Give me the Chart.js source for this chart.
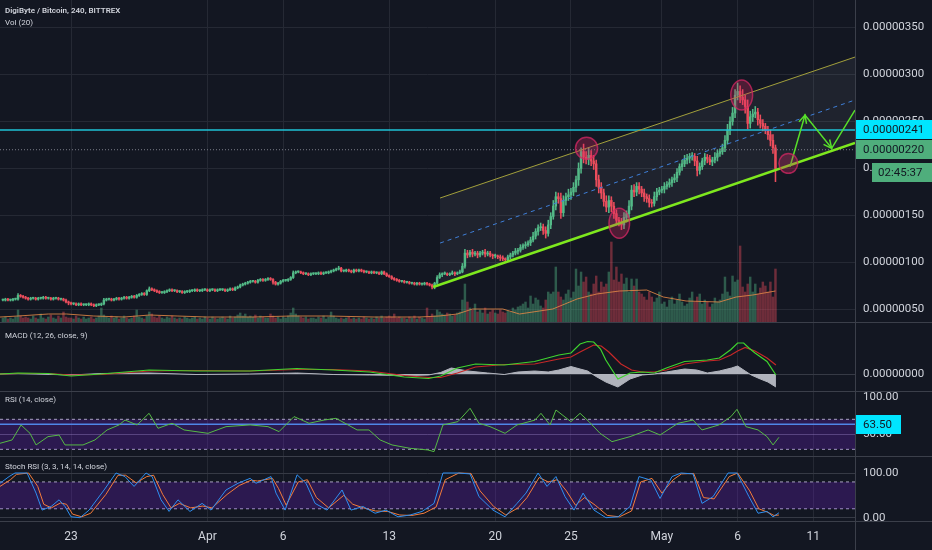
<!DOCTYPE html>
<html><head><meta charset="utf-8">
<script src="https://cdn.jsdelivr.net/npm/chart.js@4.4.1/dist/chart.umd.min.js"></script>
<style>
html,body{margin:0;padding:0;background:#131722;}
#root{position:relative;width:932px;height:550px;overflow:hidden;background:#131722;}
.pane{position:absolute;left:0;width:932px;}
.sep{position:absolute;background:#3b3f4a;z-index:4;}
.lbl{position:absolute;left:5px;color:#d1d4dc;font-family:Roboto,"Noto Sans",sans-serif;font-size:8px;white-space:nowrap;z-index:5;line-height:1;}
</style></head><body>
<div id="root">
 <div class="pane" style="top:0;height:322px"><canvas id="cMain"></canvas></div>
 <div class="pane" style="top:323px;height:68px"><canvas id="cMacd"></canvas></div>
 <div class="pane" style="top:392px;height:64px"><canvas id="cRsi"></canvas></div>
 <div class="pane" style="top:457px;height:93px"><canvas id="cStoch"></canvas></div>
 <div class="sep" style="left:0;top:322px;width:932px;height:1px"></div>
 <div class="sep" style="left:0;top:391px;width:932px;height:1px"></div>
 <div class="sep" style="left:0;top:456px;width:932px;height:1px"></div>
 <div class="sep" style="left:0;top:521px;width:932px;height:1px"></div>
 <div class="sep" style="left:855px;top:0;width:1px;height:550px"></div>
 <div class="lbl" style="top:7px;font-weight:600">DigiByte / Bitcoin, 240, BITTREX</div>
 <div class="lbl" style="top:19px">Vol (20)</div>
 <div class="lbl" style="top:332px">MACD (12, 26, close, 9)</div>
 <div class="lbl" style="top:396px">RSI (14, close)</div>
 <div class="lbl" style="top:463px">Stoch RSI (3, 3, 14, 14, close)</div>
</div>
<script>
// ---------- DATA (days relative to Mar 23, prices in satoshi = 1e-8 BTC) ----------
const xTickDays   = [0, 9, 14, 21, 28, 33, 39, 44, 49];
const xTickLabels = ['23', 'Apr', '6', '13', '20', '25', 'May', '6', '11'];
const priceTicks  = [50, 100, 150, 200, 250, 300, 350];
const rsiTicks    = [50, 100];
const stochTicks  = [0, 100];
const macdTicks   = [0];

const FIRST_BAR_DAY = -4.5;   // Mar 18 12:00
const BARS_PER_DAY = 6;       // 240-minute candles
const FIRST_OPEN = 60;

const closes = [
 60,61,60,
 60,61,61,65,64,63, 62,61,62,62,61,62, 62,63,62,62,61,62, 62,61,61,60,58,57,
 56,56,55,56,55,55, 55,56,55,54,55,55, 56,60,61,61,60,61, 62,61,62,63,62,63,
 64,63,65,66,67,66, 70,72,71,70,69,68, 68,69,70,71,70,70, 69,69,68,69,69,70,
 70,71,70,70,71,71, 70,71,71,70,71,71, 71,70,71,72,71,73, 74,76,77,78,79,80,
 80,79,81,82,81,82, 83,82,79,77,78,80, 81,81,82,84,89,90, 90,89,88,88,87,88,
 88,88,89,88,89,89, 90,91,92,93,94,91, 91,92,91,90,92,91, 92,91,90,90,89,90,
 89,89,88,90,88,86, 85,83,82,81,80,80, 79,79,78,78,77,78, 77,77,78,77,76,74,
 78,84,87,88,88,87, 88,89,88,89,90,96, 110,108,111,109,110,108, 110,111,109,110,108,107,
 107,106,105,104,103,106, 108,110,112,113,116,118, 119,121,124,128,133,137, 138,134,131,140,149,160,
 170,168,153,166,170,172, 175,180,188,200,218,212, 210,214,208,205,188,180, 174,165,159,166,160,152,
 145,143,140,148,152,160, 177,175,181,178,174,170, 168,164,163,170,175,177, 178,181,183,185,188,190,
 196,202,205,209,211,213, 213,208,198,202,208,212, 210,207,209,212,216,218, 222,230,241,250,259,278,
 282,276,273,266,248,255, 258,260,252,248,245,241, 236,230,222,200
];
const wickUp = [
 1,1,1,
 1,1,1,2,1,1, 1,1,1,1,1,1, 1,1,1,1,1,1, 1,1,1,1,1,1,
 1,1,1,1,1,1, 1,1,1,1,1,1, 1,2,1,1,1,1, 1,1,1,1,1,1,
 1,1,1,1,1,1, 1,2,1,1,1,1, 1,1,1,1,1,1, 1,1,1,1,1,1,
 1,1,1,1,1,1, 1,1,1,1,1,1, 1,1,1,1,1,1, 1,1,1,1,1,1,
 1,1,1,1,1,1, 1,1,1,1,1,1, 1,1,1,1,2,1, 1,1,1,1,1,1,
 1,1,1,1,1,1, 1,1,1,1,2,1, 1,1,1,1,1,1, 1,1,1,1,1,1,
 1,1,1,1,1,1, 1,1,1,1,1,1, 1,1,1,1,1,1, 1,1,1,1,1,1,
 1,2,2,1,2,1, 1,2,1,1,2,3, 4,3,2,3,2,2, 2,2,3,2,2,1,
 2,1,2,2,1,2, 2,2,3,2,3,2, 3,2,3,4,3,3, 4,3,4,5,4,6,
 5,4,6,5,4,6, 4,5,4,6,4,8, 6,8,5,6,4,5, 5,4,6,5,4,4,
 4,3,4,5,3,6, 5,6,4,4,3,4, 3,4,3,5,4,3, 3,4,3,4,3,4,
 4,3,4,5,4,3, 4,3,5,4,3,4, 3,4,3,5,4,3, 4,5,6,5,6,6,
 9,6,8,5,7,6, 5,6,4,5,4,3, 4,5,6,3
];
const wickDn = [
 1,1,1,
 1,1,1,1,1,1, 1,1,1,1,1,1, 1,1,1,1,1,1, 1,1,1,1,1,2,
 1,1,1,1,1,1, 1,1,1,1,1,1, 1,1,1,1,1,1, 1,1,1,1,1,1,
 1,1,1,1,1,1, 1,1,1,1,1,1, 1,1,1,1,1,1, 1,1,1,1,1,1,
 1,1,1,1,1,1, 1,1,1,1,1,1, 1,1,1,1,1,1, 1,1,1,1,1,1,
 1,1,1,1,1,1, 1,1,2,1,1,1, 1,1,1,1,1,1, 1,1,1,1,1,1,
 1,1,1,1,1,1, 1,1,1,1,1,1, 1,1,1,1,1,1, 1,1,1,1,1,1,
 1,1,1,1,1,1, 1,1,1,1,1,1, 1,1,1,1,1,1, 1,1,1,1,1,2,
 2,1,1,2,1,1, 1,1,2,1,1,1, 2,3,2,3,2,3, 2,2,3,2,2,3,
 2,2,3,2,3,2, 2,2,2,3,2,2, 3,2,3,2,3,4, 3,4,5,3,4,3,
 4,5,6,4,5,4, 5,4,5,6,5,6, 5,6,5,6,7,6, 6,5,5,6,6,5,
 5,4,5,4,5,4, 4,5,4,5,4,5, 4,5,4,3,4,3, 3,4,3,3,4,3,
 4,3,4,3,4,5, 4,5,6,4,3,4, 4,3,4,3,4,3, 3,4,4,5,4,5,
 5,6,5,7,6,5, 5,4,6,5,5,4, 5,6,6,14
];
const volumes = [
 4,5,3,
 4,3,5,12,6,4, 5,4,3,6,4,3, 8,4,3,5,7,4, 3,6,4,10,5,4,
 4,3,6,4,3,5, 3,4,5,3,4,6, 14,7,5,4,6,4, 5,3,4,6,4,3,
 4,6,12,5,4,3, 6,10,8,5,4,6, 4,3,5,4,6,4, 3,4,3,5,4,3,
 4,5,3,4,3,5, 4,3,5,4,3,4, 5,4,3,6,4,5, 7,9,6,8,5,6,
 5,7,4,6,5,4, 4,8,6,4,5,3, 5,4,6,9,14,8, 6,5,4,5,3,4,
 4,3,5,4,6,3, 5,10,6,4,3,4, 3,4,5,3,4,3, 4,3,5,4,3,4,
 3,5,4,6,4,5, 6,5,8,4,5,4, 4,3,5,4,6,3, 5,4,3,14,5,8,
 6,12,10,8,7,9, 8,6,7,9,10,22, 38,20,14,12,18,10, 12,9,14,8,10,12,
 9,8,12,10,9,11, 10,14,12,15,16,18, 20,14,26,18,24,22, 16,14,22,30,28,30,
 55,30,25,22,28,32, 24,30,53,36,50,40, 45,30,28,38,46,30, 40,35,38,50,80,42,
 55,40,48,38,44,30, 43,36,43,30,28,25, 22,30,25,20,24,30, 18,20,15,22,25,18,
 22,28,20,16,18,24, 30,20,25,28,18,22, 20,15,18,24,20,22, 28,45,30,26,46,40,
 42,76,35,30,38,45, 30,38,28,34,40,36, 30,40,25,53
];
const volMA = [[-4.69,5],[-3.5,6],[-1.5,8],[-0.3,8],[1.5,6],[3.5,5],[5.2,7],[7,6],[9,5],[12,5],[14.5,6],[17,6],[20,5],[23,5],[24.3,6],[25.5,8],[26.5,13],[28.5,13],[29.6,8],[31.8,13],[33.4,23],[34.7,28],[36.2,31],[38,32],[39.1,25],[40.6,21],[42.8,20],[43.9,25],[45,27],[46.5,31]];

// drawings on the price pane
const channelUpper  = [[24.36,168.6],[51.75,318.6]];
const channelMiddle = [[24.36,120.7],[51.75,272.9]];
const channelLower  = [[23.9,74.0],[51.75,227.1]];
const channelFillBottom = [[24.36,76.5],[51.75,227.1]];
const level241 = [[-4.69,241],[51.75,241]];
const level220 = [[-4.69,220],[51.75,220]];
const arrowPath = [[47.46,201.9],[48.45,256.9],[50.21,221.5],[51.75,262.2]];
const circles = [[34.03,221.5,0.73,11.7],[36.19,141.7,0.68,16],[44.27,278.2,0.72,16],[47.35,205.5,0.62,10.6]]; // [day, price, radius in days, radius in price]
const priceTags = [[241,'0.00000241','#00e5ff'],[220,'0.00000220','#4fae7c']];
const countdown = '02:45:37';

// MACD (values in 1e-10 BTC)
const macdLine = [[-4.69,0],[-3.5,1],[-1.5,0.5],[0,-2],[2,0],[5.15,4],[8.25,3],[11.8,3],[14.9,5.5],[17.3,4],[19.7,2],[22,-3],[23.6,-4.5],[24.4,-2],[25.5,6],[26.7,10],[28.6,9],[30.6,12.5],[32.2,19],[33,21],[33.6,30],[34.1,32.5],[34.5,32],[34.95,25],[35.3,14],[36.1,-5],[36.9,1],[37.7,2],[38.5,1],[39.3,6],[40.5,12.5],[42,14],[42.8,16],[43.56,24.5],[44.0,31],[44.4,31],[44.75,26],[45.15,21],[45.94,12.5],[46.53,-1]];
const signalLine = [[-4.69,0],[-3.5,0.5],[-1.5,0.5],[0,-1],[2,-0.5],[5.15,3],[8.25,3.5],[11.8,3],[14.9,4.5],[17.3,4.5],[19.7,3],[22,-1.5],[23.6,-3.5],[24.4,-3.5],[25.5,1],[26.7,7],[28.6,9.5],[30.6,10],[32.2,15],[33,17],[33.6,22],[34.5,29],[35.0,28],[35.5,22],[36.3,10],[37.0,4],[37.7,2],[38.5,2],[39.3,4],[40.5,10],[42,13],[42.8,14],[43.56,19],[44.0,23],[44.5,26.5],[45.15,23],[45.94,16],[46.53,9]];
const macdHist = [[-4.69,0],[-3.5,0.5],[0,-1],[2,0.5],[5.15,1],[8.25,-0.5],[11.8,0],[14.9,1],[17.3,-0.5],[19.7,-1],[22,-1.5],[23.6,-1],[24.4,1.5],[25.1,6],[26.2,3],[27.5,1],[28.6,-0.5],[29.5,2],[30.6,3],[31.5,2],[32.2,4],[33,7.5],[33.6,5],[34.1,3],[34.6,-2],[35.3,-8],[36.1,-13],[36.9,-5],[37.7,-1],[38.5,0],[39.3,2],[40.5,5],[41.3,4],[42,1],[42.8,3],[43.6,6],[44.0,8],[44.5,3],[44.9,-1],[45.5,-5],[46.0,-8],[46.53,-13]];

// RSI (14)
const rsi = [[-4.69,38],[-3.89,42.5],[-3.3,62.4],[-2.71,51.3],[-2.31,35.8],[-1.52,46.9],[-0.79,49],[-0.4,35.8],[0.79,35.8],[1.58,42.5],[2.38,55.8],[3.17,62.5],[3.56,69],[4.36,62.5],[5.15,78],[5.74,58],[6.67,64.7],[7.46,55.8],[9.04,51.3],[10.23,60.2],[11.82,62.5],[13.0,60.2],[13.73,53.6],[14.72,73.6],[15.71,64.7],[16.7,69],[17.49,71.3],[18.09,64.7],[18.88,55.8],[19.67,55.8],[20.4,42.5],[21.19,35.8],[22.38,31.3],[23.56,29.1],[23.96,26.9],[24.55,62.5],[25.54,66.9],[26.34,84.7],[26.93,64.7],[27.66,60.2],[28.65,51.3],[29.44,62.5],[30.63,69],[31.02,78],[31.62,62.5],[32.01,82.4],[33.0,66.9],[33.6,78],[34.19,66.9],[34.92,51.3],[35.71,40.2],[36.9,46.9],[38.09,55.8],[38.88,49.1],[40.07,64.7],[41.06,69],[41.65,55.8],[42.77,62.5],[43.56,73.6],[43.96,83.3],[44.55,60.2],[45.35,55.8],[45.94,46.9],[46.34,35.8],[46.73,46]];
const rsiUpper = [[-4.69,70],[51.75,70]];
const rsiLower = [[-4.69,30],[51.75,30]];
const rsiLevel = [[-4.69,63.5],[51.75,63.5]];

// Stoch RSI
const stochK = [[-4.69,77],[-4.09,92],[-3.7,100],[-2.9,100],[-2.31,55],[-1.91,17],[-1.32,25],[-0.79,40],[-0.4,25],[0,2],[0.59,0],[1.19,17],[2.18,62],[2.97,100],[3.56,92],[4.16,70],[4.95,100],[5.35,92],[5.94,40],[6.47,14],[7.06,40],[7.85,14],[8.65,32],[9.24,17],[10.23,62],[11.02,77],[11.82,88],[12.21,77],[13.2,92],[13.53,55],[14.13,17],[14.92,96],[15.51,77],[16.11,32],[16.9,17],[17.89,62],[18.48,17],[19.27,25],[20.07,10],[20.79,17],[21.58,2],[22.38,6],[23.17,14],[23.96,32],[24.55,100],[25.54,100],[26.34,98],[26.93,47],[27.85,17],[28.65,2],[29.44,32],[30.03,55],[30.83,100],[31.42,70],[32.01,92],[32.61,47],[33.2,17],[33.8,55],[34.52,17],[35.31,0],[36.11,2],[36.9,25],[37.49,92],[38.28,84],[38.88,43],[39.67,92],[40.26,100],[41.06,98],[41.65,32],[42.38,47],[43.37,100],[43.96,100],[44.75,47],[45.35,10],[45.94,14],[46.34,2],[46.73,11]];
const stochD = [[-4.69,70],[-4.0,85],[-3.6,97],[-2.8,100],[-2.2,70],[-1.8,30],[-1.3,22],[-0.7,33],[-0.3,30],[0.1,8],[0.7,2],[1.3,10],[2.3,52],[3.1,95],[3.6,95],[4.3,78],[5.0,92],[5.45,95],[6.05,52],[6.6,22],[7.15,32],[7.9,22],[8.7,26],[9.3,22],[10.3,52],[11.1,72],[11.9,84],[12.3,82],[13.3,88],[13.7,65],[14.2,28],[15.0,80],[15.6,85],[16.2,45],[17.0,22],[18.0,50],[18.6,30],[19.3,22],[20.1,15],[20.9,14],[21.7,6],[22.5,5],[23.3,10],[24.1,24],[24.7,85],[25.6,100],[26.4,99],[27.0,60],[27.9,25],[28.7,6],[29.5,22],[30.1,45],[30.9,90],[31.5,80],[32.1,85],[32.7,60],[33.3,28],[33.9,45],[34.6,28],[35.4,5],[36.2,2],[37.0,15],[37.6,80],[38.35,88],[39.0,55],[39.75,85],[40.3,98],[41.1,99],[41.75,45],[42.45,42],[43.45,92],[44.0,100],[44.8,60],[45.4,20],[46.0,12],[46.4,5],[46.73,6]];
const stochUpper = [[-4.69,80],[51.75,80]];
const stochLower = [[-4.69,20],[51.75,20]];

// ---------- STYLE / LAYOUT ----------
const FONT = 'Roboto, "Noto Sans", sans-serif';
const GRID = '#252934';
const TXT = '#d1d4dc';
const X_MIN = -4.69, X_MAX = 51.75;
const UP = '#53b987', DOWN = '#eb4d5c';
const ARROW = '#58e02a';

const pts = a => a.map(p => ({x: p[0], y: p[1]}));

function xScale(show) {
  return {
    type: 'linear', min: X_MIN, max: X_MAX, offset: false,
    afterBuildTicks: s => { s.ticks = xTickDays.map(v => ({value: v})); },
    ticks: {display: show, autoSkip: false, maxRotation: 0, color: TXT, padding: 9,
      font: {size: 12, family: FONT}, callback: (v, i) => xTickLabels[i]},
    grid: {color: GRID, drawTicks: false, offset: false},
    border: {display: false},
    afterFit: s => { s.height = show ? 29 : 0; s.paddingLeft = 0; s.paddingRight = 0; }
  };
}
function yScale(min, max, ticks, fmt, gridColor) {
  return {
    type: 'linear', position: 'right', min: min, max: max,
    afterBuildTicks: s => { s.ticks = ticks.map(v => ({value: v})); },
    ticks: {color: TXT, padding: 8, font: {size: 11.5, family: FONT}, callback: fmt},
    grid: {color: gridColor, drawTicks: false},
    border: {display: false},
    afterFit: s => { s.width = 77; s.paddingTop = 0; s.paddingBottom = 0; }
  };
}
const baseOpts = {
  responsive: true, maintainAspectRatio: false, animation: false, events: [],
  layout: {padding: 0, autoPadding: false},
  plugins: {legend: {display: false}, tooltip: {enabled: false}}
};
function line(data, color, width, extra) {
  return Object.assign({type: 'line', data: pts(data), borderColor: color, borderWidth: width,
    pointRadius: 0, tension: 0, fill: false}, extra || {});
}
function drawTag(chart, scaleId, value, text, bg, x0, x1, dy, tx) {
  const ctx = chart.ctx;
  const y = chart.scales[scaleId].getPixelForValue(value) + dy;
  ctx.save();
  ctx.fillStyle = bg;
  ctx.fillRect(x0, Math.round(y - 9.5), x1 - x0, 19);
  ctx.fillStyle = '#131722';
  ctx.font = '11.5px ' + FONT;
  ctx.textBaseline = 'middle';
  ctx.fillText(text, tx, y + 0.5);
  ctx.restore();
}

// ---------- MAIN PANE ----------
const barX = closes.map((c, i) => FIRST_BAR_DAY + i / BARS_PER_DAY);
const opens = closes.map((c, i) => i === 0 ? FIRST_OPEN : closes[i - 1]);
const isUp = closes.map((c, i) => c >= opens[i]);
const candleCol = isUp.map(u => u ? UP : DOWN);
const volCol = isUp.map(u => u ? 'rgba(83,185,135,0.42)' : 'rgba(235,77,92,0.42)');
const bodyData = closes.map((c, i) => ({x: barX[i], y: [opens[i], c]}));
const wickData = closes.map((c, i) => ({x: barX[i], y: [Math.min(opens[i], c) - wickDn[i], Math.max(opens[i], c) + wickUp[i]]}));
const volData = volumes.map((v, i) => ({x: barX[i], y: v}));

const mainDraw = {
  id: 'mainDraw',
  afterDatasetsDraw(chart) {
    const {ctx, chartArea: a, scales: {x, y}} = chart;
    ctx.save();
    ctx.beginPath(); ctx.rect(a.left, a.top, a.width, a.height); ctx.clip();
    circles.forEach(e => {
      const cx = x.getPixelForValue(e[0]), cy = y.getPixelForValue(e[1]);
      const rx = Math.abs(x.getPixelForValue(e[0] + e[2]) - cx);
      const ry = Math.abs(y.getPixelForValue(e[1] + e[3]) - cy);
      ctx.beginPath(); ctx.ellipse(cx, cy, rx, ry, 0, 0, Math.PI * 2);
      ctx.fillStyle = 'rgba(214,40,100,0.30)'; ctx.fill();
      ctx.strokeStyle = 'rgba(214,40,100,0.75)'; ctx.lineWidth = 1.5; ctx.stroke();
    });
    [1, 2].forEach(i => {
      const p0 = arrowPath[i - 1], p1 = arrowPath[i];
      const x0 = x.getPixelForValue(p0[0]), y0 = y.getPixelForValue(p0[1]);
      const x1 = x.getPixelForValue(p1[0]), y1 = y.getPixelForValue(p1[1]);
      const ang = Math.atan2(y1 - y0, x1 - x0), L = 9;
      ctx.beginPath();
      ctx.moveTo(x1 - L * Math.cos(ang - 0.45), y1 - L * Math.sin(ang - 0.45));
      ctx.lineTo(x1, y1);
      ctx.lineTo(x1 - L * Math.cos(ang + 0.45), y1 - L * Math.sin(ang + 0.45));
      ctx.strokeStyle = ARROW; ctx.lineWidth = 1.5; ctx.stroke();
    });
    ctx.restore();
  },
  afterDraw(chart) {
    const a = chart.chartArea, W = chart.width;
    priceTags.forEach(t => drawTag(chart, 'y', t[0], t[1], t[2], a.right, W, 0, a.right + 8));
    drawTag(chart, 'y', priceTags[1][0], countdown, priceTags[1][2], a.right + 17, W, 22.5, a.right + 23);
  }
};

new Chart(document.getElementById('cMain'), {
  type: 'bar',
  data: {datasets: [
    line(channelUpper, 'transparent', 0, {fill: '+1', backgroundColor: 'rgba(160,166,182,0.09)', order: 30}),
    line(channelFillBottom, 'transparent', 0, {order: 30}),
    {type: 'bar', data: volData, yAxisID: 'yv', backgroundColor: volCol, barThickness: 1.8, grouped: false, order: 25},
    line(volMA, 'rgba(226,135,70,0.85)', 1, {yAxisID: 'yv', order: 24}),
    {type: 'bar', data: wickData, backgroundColor: candleCol, barThickness: 0.9, grouped: false, order: 12},
    {type: 'bar', data: bodyData, backgroundColor: candleCol, barThickness: 1.8, grouped: false, minBarLength: 1, order: 11},
    line(level220, '#7a7d88', 1, {borderDash: [1, 2], order: 7}),
    line(level241, '#1fc3d6', 1.5, {order: 6}),
    line(channelUpper, '#a3a03c', 1, {order: 5}),
    line(channelMiddle, '#3f7fd8', 1, {borderDash: [4, 4], order: 5}),
    line(channelLower, '#7ee81e', 2.5, {order: 4}),
    line(arrowPath, ARROW, 1.5, {order: 3})
  ]},
  options: Object.assign({}, baseOpts, {
    scales: {
      x: xScale(false),
      y: yScale(36.7, 379.3, priceTicks, v => (v / 1e8).toFixed(8), GRID),
      yv: {display: false, min: 0, max: 322}
    }
  }),
  plugins: [mainDraw]
});

// ---------- MACD ----------
new Chart(document.getElementById('cMacd'), {
  type: 'line',
  data: {datasets: [
    line(macdHist, '#b2b5be', 1, {fill: 'origin', backgroundColor: 'rgba(190,193,202,0.92)', order: 10}),
    line(signalLine, '#c62828', 1.2, {order: 2}),
    line(macdLine, '#3fd42f', 1.2, {order: 1})
  ]},
  options: Object.assign({}, baseOpts, {
    scales: {x: xScale(false), y: yScale(-17, 51, macdTicks, v => (v / 1e10).toFixed(8), '#363a45')}
  })
});

// ---------- RSI ----------
new Chart(document.getElementById('cRsi'), {
  type: 'line',
  data: {datasets: [
    line(rsiUpper, '#a9a3c2', 1, {borderDash: [3, 3], fill: '+1', backgroundColor: 'rgba(120,30,220,0.25)', order: 10}),
    line(rsiLower, '#a9a3c2', 1, {borderDash: [3, 3], order: 10}),
    line(rsiLevel, '#4f86e8', 1.5, {order: 3}),
    line(rsi, '#56ba45', 1, {order: 1})
  ]},
  options: Object.assign({}, baseOpts, {
    scales: {x: xScale(false), y: yScale(21.07, 106.4, rsiTicks, v => v.toFixed(2),
      c => c.tick && c.tick.value === 50 ? 'rgba(150,150,175,0.45)' : 'transparent')}
  }),
  plugins: [{id: 'rsiTag', afterDraw(chart) {
    drawTag(chart, 'y', 63.5, '63.50', '#00e5ff', chart.chartArea.right, chart.chartArea.right + 46, 0, chart.chartArea.right + 8);
  }}]
});

// ---------- STOCH RSI ----------
new Chart(document.getElementById('cStoch'), {
  type: 'line',
  data: {datasets: [
    line(stochUpper, '#a9a3c2', 1, {borderDash: [3, 3], fill: '+1', backgroundColor: 'rgba(120,30,220,0.25)', order: 10}),
    line(stochLower, '#a9a3c2', 1, {borderDash: [3, 3], order: 10}),
    line(stochD, '#f57c3a', 1, {order: 2}),
    line(stochK, '#2f8ff0', 1, {order: 1})
  ]},
  options: Object.assign({}, baseOpts, {
    scales: {x: xScale(true), y: yScale(-7.4, 135.8, stochTicks, v => v.toFixed(2), '#363a45')}
  })
});
</script>
</body></html>
